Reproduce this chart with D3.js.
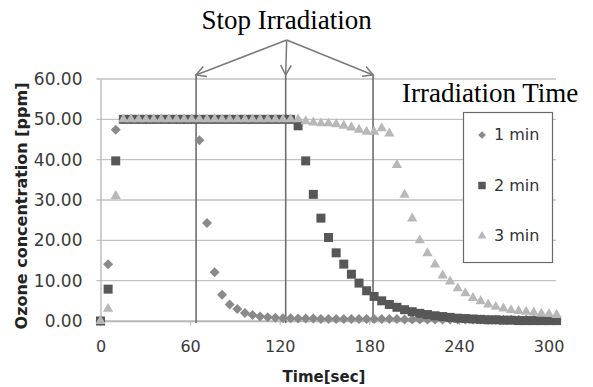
<!DOCTYPE html>
<html>
<head>
<meta charset="utf-8">
<script src="https://cdn.jsdelivr.net/npm/d3@7"></script>
<style>
    body { margin: 0; background: #fff; }
    svg { display: block; }
</style>
</head>
<body>
<div id="chart"></div>
<script>
// sampling times [sec]
const times = [0, 5.1, 10.2, 15.3, 20.4, 25.5, 30.5, 35.6, 40.7, 45.8,
    50.9, 56.0, 61.1, 66.2, 71.3, 76.4, 81.4, 86.5, 91.6, 96.7,
    101.8, 106.9, 112.0, 117.1, 122.2, 127.3, 132.3, 137.4, 142.5, 147.6,
    152.7, 157.8, 162.9, 168.0, 173.1, 178.2, 183.2, 188.3, 193.4, 198.5,
    203.6, 208.7, 213.8, 218.9, 224.0, 229.1, 234.1, 239.2, 244.3, 249.4,
    254.5, 259.6, 264.7, 269.8, 274.9, 280.0, 285.0, 290.1, 295.2, 300.3, 305.4];

// ozone concentration [ppm] for each irradiation time
const oneMin = [0, 14.1, 47.4, 50, 50, 50, 50, 50, 50, 50,
    50, 50, 50, 44.8, 24.3, 12.1, 6.5, 4.1, 3.0, 2.0,
    1.5, 1.1, 0.9, 0.8, 0.7, 0.7, 0.6, 0.6, 0.6, 0.5,
    0.5, 0.5, 0.5, 0.5, 0.5, 0.5, 0.5, 0.5, 0.5, 0.5,
    0.4, 0.4, 0.4, 0.4, 0.4, 0.4, 0.4, 0.4, 0.4, 0.4,
    0.4, 0.3, 0.3, 0.3, 0.3, 0.3, 0.3, 0.3, 0.3, 0.3, 0.3];

const twoMin = [0, 7.9, 39.7, 50, 50, 50, 50, 50, 50, 50,
    50, 50, 50, 50, 50, 50, 50, 50, 50, 50,
    50, 50, 50, 50, 50, 50, 48.4, 39.7, 31.4, 25.5,
    20.7, 16.9, 14.1, 11.6, 9.4, 7.5, 6.1, 5.0, 4.1, 3.4,
    2.8, 2.3, 1.9, 1.6, 1.3, 1.1, 0.9, 0.7, 0.6, 0.5,
    0.4, 0.3, 0.3, 0.2, 0.2, 0.1, 0.1, 0.1, 0.1, 0.1, 0.1];

const threeMin = [0, 3.0, 31.0, 50, 50, 50, 50, 50, 50, 50,
    50, 50, 50, 50, 50, 50, 50, 50, 50, 50,
    50, 50, 50, 50, 50, 50, 50, 49.5, 49.2, 49.0,
    49.0, 48.8, 48.4, 48.0, 47.4, 46.9, 46.9, 47.8, 46.5, 38.7,
    31.3, 25.4, 20.0, 16.8, 14.0, 11.3, 9.8, 8.1, 6.9, 5.7,
    4.9, 4.1, 3.5, 3.1, 2.7, 2.5, 2.3, 2.1, 1.8, 1.7, 1.5];

const seriesNames = ["1 min", "2 min", "3 min"];
const xTicks = [0, 60, 120, 180, 240, 300];
const yTicks = [0, 10, 20, 30, 40, 50, 60];
// where the "stop irradiation" lines were drawn [sec]
const stopTimes = [64, 124, 182.5];

class OzoneVis {
    constructor(parentElement) {
        this.parentElement = parentElement;
        this.initVis();
    }

    initVis() {
        let vis = this;

        vis.width = 593;
        vis.height = 387;

        vis.svg = d3.select(`#${vis.parentElement}`).append("svg")
            .attr("width", vis.width)
            .attr("height", vis.height);

        vis.x = d3.scaleLinear().domain([0, 305]).range([100.5, 556]);
        vis.y = d3.scaleLinear().domain([0, 60]).range([321, 79]);

        vis.series = [
            { name: seriesNames[0], values: oneMin, color: "#8a8a8a", shape: "diamond" },
            { name: seriesNames[1], values: twoMin, color: "#575757", shape: "square" },
            { name: seriesNames[2], values: threeMin, color: "#b8b8b8", shape: "triangle" }
        ];

        vis.drawVis();
    }

    symbolPath(shape, big) {
        if (shape === "square") return d3.symbol(d3.symbolSquare, big ? 81 : 56)();
        if (shape === "diamond") return d3.symbol(d3.symbolSquare, big ? 50 : 30)();
        return d3.symbol(d3.symbolTriangle, big ? 46 : 34)();
    }

    drawVis() {
        let vis = this;
        const x = vis.x, y = vis.y;

        // gridlines
        vis.svg.append("g")
            .selectAll("line")
            .data(yTicks)
            .enter()
            .append("line")
            .attr("x1", x.range()[0] - 4)
            .attr("x2", x.range()[1])
            .attr("y1", d => y(d))
            .attr("y2", d => y(d))
            .attr("stroke", "#c2c2c2")
            .attr("stroke-width", 1.3);

        // axes
        const yAxis = vis.svg.append("g")
            .attr("transform", `translate(${x.range()[0]},0)`)
            .call(d3.axisLeft(y).tickValues(yTicks).tickFormat(d3.format(".2f")).tickSize(0).tickPadding(18));
        yAxis.select(".domain").attr("stroke", "#b5b5b5").attr("stroke-width", 1.3);
        yAxis.selectAll("text")
            .attr("font-family", "DejaVu Sans")
            .attr("font-size", 17)
            .attr("fill", "#3a3a3a");

        const xAxis = vis.svg.append("g")
            .attr("transform", `translate(0,${y.range()[0]})`)
            .call(d3.axisBottom(x).tickValues(xTicks).tickSize(4).tickPadding(16));
        xAxis.select(".domain").attr("stroke", "#b5b5b5").attr("stroke-width", 1.3);
        xAxis.selectAll("line").attr("stroke", "#b5b5b5");
        xAxis.selectAll("text")
            .attr("font-family", "DejaVu Sans")
            .attr("font-size", 16)
            .attr("fill", "#3a3a3a");

        // axis titles
        vis.svg.append("text")
            .attr("transform", `translate(27,${(y.range()[0] + y.range()[1]) / 2 + 6}) rotate(-90)`)
            .attr("text-anchor", "middle")
            .attr("font-family", "DejaVu Sans")
            .attr("font-weight", "bold")
            .attr("font-size", 16)
            .attr("fill", "#222")
            .text("Ozone concentration [ppm]");

        vis.svg.append("text")
            .attr("x", 324)
            .attr("y", 382)
            .attr("text-anchor", "middle")
            .attr("font-family", "DejaVu Sans")
            .attr("font-weight", "bold")
            .attr("font-size", 15)
            .attr("fill", "#222")
            .text("Time[sec]");

        // stop irradiation lines
        vis.svg.append("g")
            .selectAll("line")
            .data(stopTimes)
            .enter()
            .append("line")
            .attr("x1", d => x(d))
            .attr("x2", d => x(d))
            .attr("y1", 74)
            .attr("y2", y(0) + 2)
            .attr("stroke", "#6e6e6e")
            .attr("stroke-width", 1.6);

        // data points (diamonds, then squares, then triangles on top)
        vis.series.forEach(s => {
            vis.svg.append("g")
                .selectAll("path")
                .data(s.values)
                .enter()
                .append("path")
                .attr("d", vis.symbolPath(s.shape, true))
                .attr("transform", (d, i) => `translate(${x(times[i])},${y(d)})` + (s.shape === "diamond" ? " rotate(45)" : ""))
                .attr("fill", s.color);
        });

        // arrows from the label to the stop lines
        const apex = [x(stopTimes[1]) + 1, 40];
        const arrows = vis.svg.append("g")
            .attr("stroke", "#7a7a7a")
            .attr("stroke-width", 1.5)
            .attr("fill", "none");
        stopTimes.forEach(t => {
            const tip = [x(t), 75];
            const ang = Math.atan2(tip[1] - apex[1], tip[0] - apex[0]);
            const len = 11, spread = 0.5;
            arrows.append("line")
                .attr("x1", apex[0]).attr("y1", apex[1])
                .attr("x2", tip[0]).attr("y2", tip[1]);
            arrows.append("path")
                .attr("d", `M${tip[0] - len * Math.cos(ang - spread)},${tip[1] - len * Math.sin(ang - spread)}` +
                    `L${tip[0]},${tip[1]}` +
                    `L${tip[0] - len * Math.cos(ang + spread)},${tip[1] - len * Math.sin(ang + spread)}`);
        });

        vis.svg.append("text")
            .attr("x", apex[0])
            .attr("y", 29)
            .attr("text-anchor", "middle")
            .attr("font-family", "Liberation Serif")
            .attr("font-size", 27)
            .attr("fill", "#000")
            .text("Stop Irradiation");

        vis.svg.append("text")
            .attr("x", 402)
            .attr("y", 102)
            .attr("font-family", "Liberation Serif")
            .attr("font-size", 27)
            .attr("fill", "#000")
            .text("Irradiation Time");

        // legend
        const legend = vis.svg.append("g");
        legend.append("rect")
            .attr("x", 463.5)
            .attr("y", 112.5)
            .attr("width", 89)
            .attr("height", 150)
            .attr("fill", "#fff")
            .attr("stroke", "#6a6a6a")
            .attr("stroke-width", 1.2);

        const rows = legend.selectAll(".row")
            .data(vis.series)
            .enter()
            .append("g")
            .attr("class", "row")
            .attr("transform", (d, i) => `translate(482,${135 + i * 50.5})`);

        rows.append("path")
            .attr("d", d => vis.symbolPath(d.shape, false))
            .attr("transform", d => d.shape === "diamond" ? "rotate(45)" : "")
            .attr("fill", d => d.color);

        rows.append("text")
            .attr("x", 12)
            .attr("y", 5)
            .attr("font-family", "DejaVu Sans")
            .attr("font-size", 16)
            .attr("fill", "#333")
            .text(d => d.name);
    }
}

new OzoneVis("chart");
</script>
</body>
</html>
